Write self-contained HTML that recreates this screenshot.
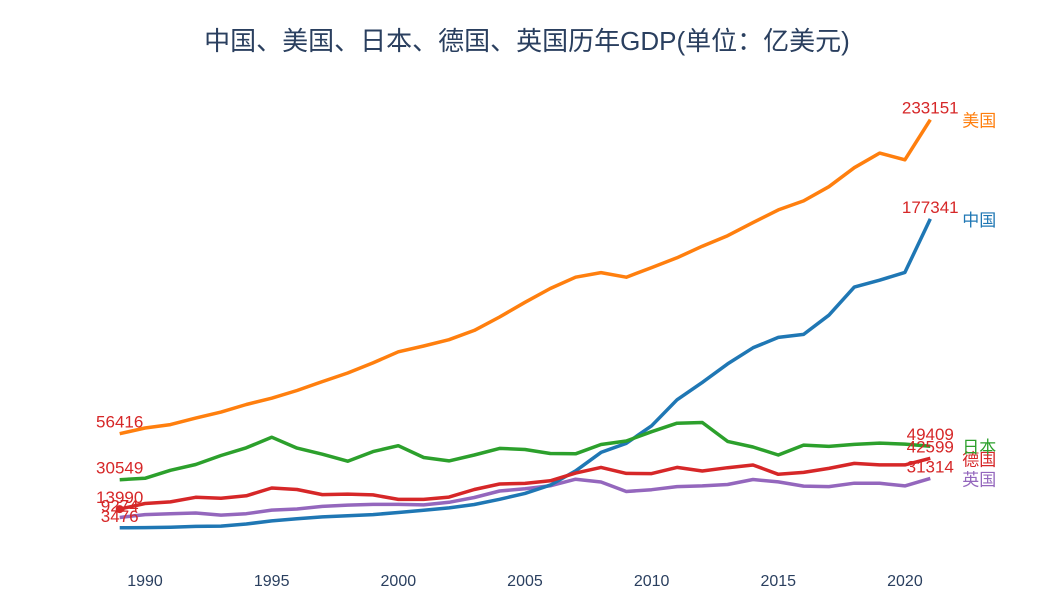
<!DOCTYPE html>
<html><head><meta charset="utf-8"><style>
body{margin:0;background:#fff;}
svg text{font-family:"Liberation Sans","Noto Sans CJK SC",sans-serif;}
</style></head><body>
<svg id="chart" width="1055" height="594" xmlns="http://www.w3.org/2000/svg">
<text x="527" y="50" text-anchor="middle" font-size="26" fill="#2a3f5f">中国、美国、日本、德国、英国历年GDP(单位：亿美元)</text>
<g id="axis"></g>
<g id="lines"></g>
</svg>
<script>
const years=[1989,1990,1991,1992,1993,1994,1995,1996,1997,1998,1999,2000,2001,2002,2003,2004,2005,2006,2007,2008,2009,2010,2011,2012,2013,2014,2015,2016,2017,2018,2019,2020,2021];
const tickYears=[1990,1995,2000,2005,2010,2015,2020];
const usa=[56416,59631,61582,65203,68588,72875,76397,80732,85779,90629,96309,102510,105819,109364,114580,122135,130366,138147,144518,147128,144489,149921,155426,161970,167848,175217,182383,187451,195430,206118,214332,210604,233151];
const china=[3476,3609,3834,4269,4447,5643,7345,8637,9615,10290,10940,12113,13394,14705,16603,19553,22860,27521,35500,45944,51017,60872,75515,85322,95704,104757,110616,112333,123104,138948,142799,147228,177341];
const japan=[30549,31327,35846,39088,44149,48504,54491,48335,44922,40980,46353,49683,43035,41152,44457,48151,47554,45303,45152,50379,52314,57591,62334,62723,52123,48965,44446,50037,49306,50409,51179,50578,49409];
const germany=[13990,17149,18083,20663,20066,21485,25860,25035,22188,22440,21995,19478,19459,20787,25058,28146,28457,29928,34249,37455,34111,33999,37496,35453,37336,38840,33576,34677,36903,39740,38887,38891,42599];
const uk=[9274,10930,11420,11790,10610,11400,13440,14080,15530,16290,16640,16650,16400,17840,20550,24220,25440,27130,30850,29290,23940,24910,26660,27070,27840,30650,29320,26940,26660,28610,28510,27070,31314];
const series=[
 {name:'英国',key:'uk',vals:uk,color:'#9467bd'},
 {name:'中国',key:'china',vals:china,color:'#1f77b4'},
 {name:'德国',key:'germany',vals:germany,color:'#d62728'},
 {name:'日本',key:'japan',vals:japan,color:'#2ca02c'},
 {name:'美国',key:'usa',vals:usa,color:'#ff7f0e'}
];
const X=y=>119.7+(y-1989)*25.33;
const Y=v=>534-v*0.001777;
const NS='http://www.w3.org/2000/svg';
const ax=document.getElementById('axis'), g=document.getElementById('lines');
tickYears.forEach(t=>{
 const tx=document.createElementNS(NS,'text');
 
 
 tx.setAttribute('x',X(t));tx.setAttribute('y',586);tx.setAttribute('text-anchor','middle');
 tx.setAttribute('font-size','16');tx.setAttribute('fill','#2a3f5f');tx.textContent=t;ax.appendChild(tx);
});
series.forEach(s=>{
 const p=document.createElementNS(NS,'path');
 
 
 p.setAttribute('d',s.vals.map((v,i)=>(i?'L':'M')+X(years[i]).toFixed(1)+','+Y(v).toFixed(1)).join(''));
 p.setAttribute('fill','none');p.setAttribute('stroke',s.color);p.setAttribute('stroke-width','3.5');p.setAttribute('stroke-linejoin','round');
 g.appendChild(p);
});
const dot=document.createElementNS(NS,'circle');


dot.setAttribute('cx',X(years[0]));dot.setAttribute('cy',Y(germany[0]));dot.setAttribute('r','4');dot.setAttribute('fill','#d62728');
g.appendChild(dot);
series.forEach(s=>{
 const n=s.vals.length-1;
 [[0,s.vals[0]],[n,s.vals[n]]].forEach(([i,v])=>{
  const t=document.createElementNS(NS,'text');
  
  
  t.setAttribute('x',X(years[i]));t.setAttribute('y',Y(v)-6);t.setAttribute('text-anchor','middle');
  t.setAttribute('font-size','17');t.setAttribute('fill','#d62728');t.textContent=v;g.appendChild(t);
 });
 const nm=document.createElementNS(NS,'text');
 
 
 nm.setAttribute('x',X(years[n])+32);nm.setAttribute('y',Y(s.vals[n])+7);
 nm.setAttribute('font-size','17');nm.setAttribute('fill',s.color);nm.textContent=s.name;g.appendChild(nm);
});
</script>
</body></html>
